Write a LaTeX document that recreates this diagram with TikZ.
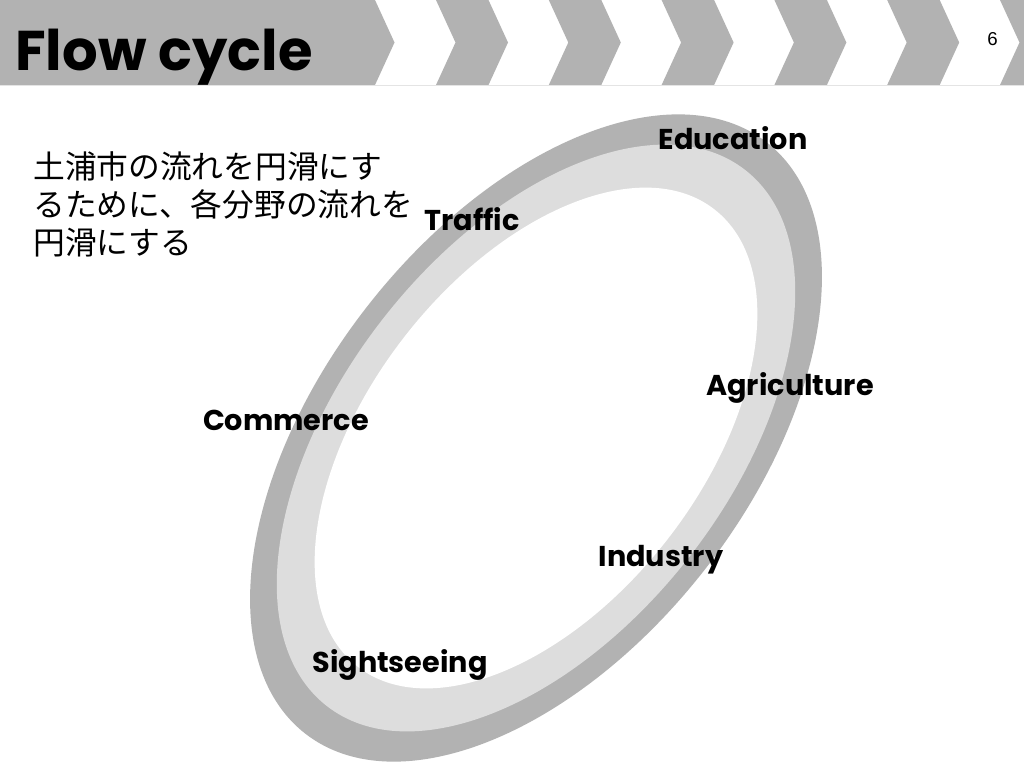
\documentclass[tikz,border=0pt]{standalone}
\usepackage{fontspec}
\usepackage{tikz}
\newfontfamily\cjk{Noto Sans CJK JP}
\newfontfamily\labelfont{Poppins}
\newfontfamily\numfont{Liberation Sans}

\definecolor{bandgray}{RGB}{178,178,178}
\definecolor{ringlight}{RGB}{221,221,221}
\definecolor{ruleline}{RGB}{228,228,228}

\begin{document}
\begin{tikzpicture}[x=0.75pt,y=0.75pt,yscale=-1,xscale=1,
  sector/.style={font=\labelfont\bfseries\fontsize{21.5}{26}\selectfont, inner sep=0.75pt},
  jpline/.style={anchor=base west, inner sep=0pt, font=\cjk\fontsize{23.8}{28}\selectfont},
  chevron/.style={fill=bandgray, draw=none}]
%set diagram to the slide size
\useasboundingbox [fill=white] (0,0) rectangle (1024,768);

%Shape: Title band
\fill [bandgray] (0,0) -- (375,0) -- (394.5,42.5) -- (375,85) -- (0,85) -- cycle ;
%Shape: Chevron
\fill [chevron] (436,0) -- (488.5,0) -- (508,42.5) -- (488.5,85) -- (436,85) -- (455.5,42.5) -- cycle ;
%Shape: Chevron
\fill [chevron] (548.8,0) -- (601.3,0) -- (620.8,42.5) -- (601.3,85) -- (548.8,85) -- (568.3,42.5) -- cycle ;
%Shape: Chevron
\fill [chevron] (661.6,0) -- (714.1,0) -- (733.6,42.5) -- (714.1,85) -- (661.6,85) -- (681.1,42.5) -- cycle ;
%Shape: Chevron
\fill [chevron] (774.4,0) -- (826.9,0) -- (846.4,42.5) -- (826.9,85) -- (774.4,85) -- (793.9,42.5) -- cycle ;
%Shape: Chevron
\fill [chevron] (887.2,0) -- (939.7,0) -- (959.2,42.5) -- (939.7,85) -- (887.2,85) -- (906.7,42.5) -- cycle ;
%Shape: Chevron
\fill [chevron] (1000,0) -- (1052.5,0) -- (1072,42.5) -- (1052.5,85) -- (1000,85) -- (1019.5,42.5) -- cycle ;
%Straight Lines
\draw [ruleline] (0,85.5) -- (1024,85.5) ;

%Shape: Ellipse (outer band)
\fill [bandgray, rotate around={-52:(536,438)}] (536,438) ellipse [x radius=375, y radius=214] ;
%Shape: Ellipse (inner band)
\fill [ringlight, rotate around={-52:(536,438)}] (536,438) ellipse [x radius=340, y radius=194] ;
%Shape: Ellipse (hole)
\fill [white, rotate around={-52:(536,438)}] (536,438) ellipse [x radius=290, y radius=166] ;

% Text Node
\node [anchor=base west, inner sep=0pt, font=\labelfont\bfseries\fontsize{42}{48}\selectfont] (title) at (15,70) {Flow cycle};
% Text Node
\node [font=\numfont\fontsize{14}{16}\selectfont] (pagenum) at (992.5,39) {6};
% Text Node
\node [jpline] (aimA) at (33,178) {土浦市の流れを円滑にす};
% Text Node
\node [jpline] (aimB) at (33,216) {るために、各分野の流れを};
% Text Node
\node [jpline] (aimC) at (33,254) {円滑にする};
% Text Node
\node [sector] (education) at (733,138) {Education};
% Text Node
\node [sector] (traffic) at (472,219) {Traffic};
% Text Node
\node [sector] (agriculture) at (790,388) {Agriculture};
% Text Node
\node [sector] (commerce) at (286,420) {Commerce};
% Text Node
\node [sector] (industry) at (661,560) {Industry};
% Text Node
\node [sector] (sightseeing) at (400,665) {Sightseeing};

\end{tikzpicture}
\end{document}
